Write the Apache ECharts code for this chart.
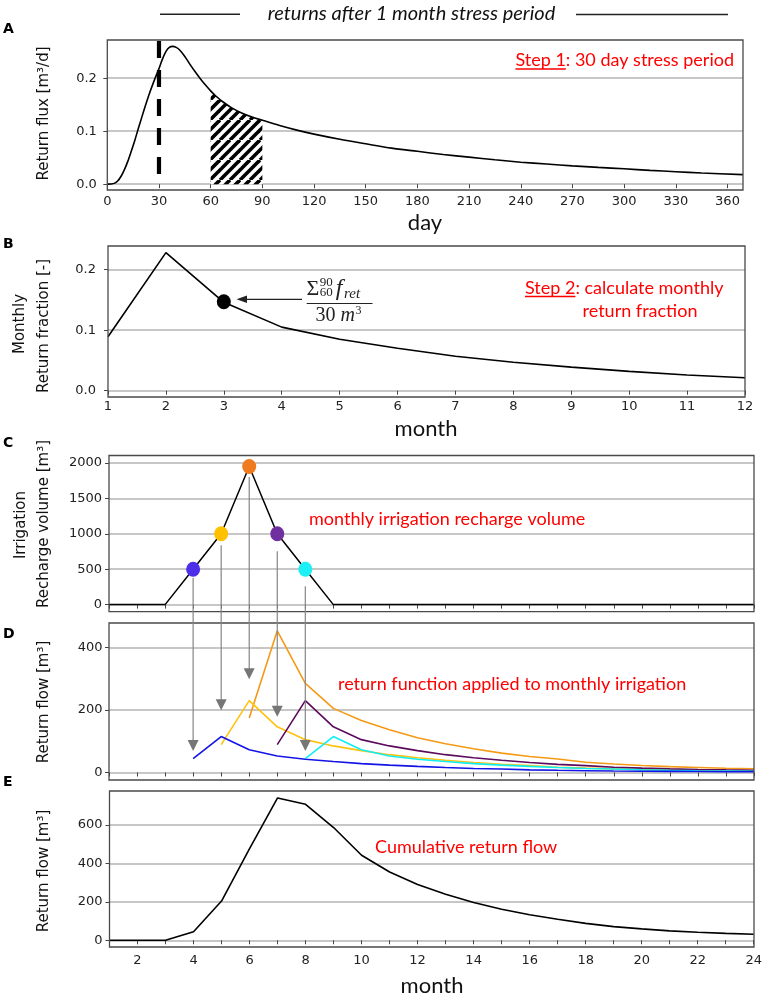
<!DOCTYPE html>
<html><head><meta charset="utf-8">
<script src="https://cdn.jsdelivr.net/npm/echarts@6/dist/echarts.min.js"></script>
<style>html,body{margin:0;padding:0;background:#fff}#c{width:765px;height:1000px}</style>
</head><body><div id="c"></div>
<script>
// ---------- Panel A: daily return flux ----------
const daysA = [0,2,4,6,8,10,12,14,16,18,20,22,24,26,28,30,32,34,36,38,40,42,45,48,51,54,57,60,63,67,72,78,84,90,100,110,120,135,150,165,180,195,210,225,240,255,270,285,300,315,330,345,369];
const fluxA = [0,0.0003,0.0015,0.006,0.015,0.028,0.044,0.063,0.083,0.105,0.126,0.147,0.167,0.185,0.202,0.218,0.236,0.250,0.258,0.260,0.258,0.253,0.241,0.226,0.212,0.199,0.187,0.176,0.1663,0.1555,0.1445,0.1343,0.1265,0.1205,0.1106,0.102,0.0944,0.0847,0.0762,0.068,0.062,0.056,0.051,0.046,0.0415,0.038,0.0345,0.0317,0.029,0.026,0.0235,0.021,0.018];
const hatchRange = [60, 90];
const dashDay = 30, dashRange = [0.27, 0.013];
const xTicksA = [0,30,60,90,120,150,180,210,240,270,300,330,360];
const yTicksA = [0, 0.1, 0.2];
// ---------- Panel B: monthly return fraction ----------
const monthsB = [1,2,3,4,5,6,7,8,9,10,11,12];
const fracB = [0.089,0.228,0.146,0.105,0.085,0.070,0.057,0.047,0.039,0.032,0.026,0.0215];
const dotB = [3, 0.147];
const yTicksB = [0, 0.1, 0.2];
// ---------- Panels C-E: months 1..24 ----------
const months = [1,2,3,4,5,6,7,8,9,10,11,12,13,14,15,16,17,18,19,20,21,22,23,24];
const irrigC = [0,0,0,500,1000,1950,1000,500,0,0,0,0,0,0,0,0,0,0,0,0,0,0,0,0];
const dotMonthsC = [4,5,6,7,8];
const arrowStartC = [380,837,1800,755,260];
const arrowTipD = [69,199,298,178,69];
const yTicksC = [0,500,1000,1500,2000];
const N = null;
const retBlue   = [N,N,N,44.5,115,73,52.5,42.5,35,28.5,23.5,19.5,16,13,11,8.5,7,5.8,4.9,4.2,3.6,3.1,2.6,2.3];
const retYellow = [N,N,N,N,89,230,146,105,85,70,57,47,39,32,26,22,17,14,11.5,9.7,8.3,7.1,6.1,5.2];
const retOrange = [N,N,N,N,N,174,453,285,205,166,137,111,92,76,62,51,43,33,27,22.4,18.9,16.2,13.8,11.9];
const retPurple = [N,N,N,N,N,N,89,230,146,105,85,70,57,47,39,32,26,22,17,14,11.5,9.7,8.3,7.1];
const retCyan   = [N,N,N,N,N,N,N,44.5,115,73,52.5,42.5,35,28.5,23.5,19.5,16,13,11,8.5,7,5.8,4.9,4.2];
const yTicksD = [0,200,400];
const cumE = [0,0,0,44.5,204,477,740,707,586,442,355,290,239,196,161,133,109,88,71,59,49,42,36,31];
const yTicksE = [0,200,400,600];
const xLabelsE = [2,4,6,8,10,12,14,16,18,20,22,24];

// ---------- styles / layout ----------
const dotColors = ['#4F2EEA','#FFC000','#F07A1E','#7030A0','#1CF0F5'];
const lineColorsD = {blue:'#1414E6', yellow:'#FFC20E', orange:'#F49A16', purple:'#5C0A5C', cyan:'#10EEF2'};
const G = [
  {left:107.3, top:40, width:635.7, height:150},
  {left:108, top:246, width:637, height:151},
  {left:109, top:455.5, width:645, height:156.2},
  {left:109, top:623, width:645, height:157},
  {left:109.5, top:791, width:644.5, height:156}
];
const yRanges = [[-0.011,0.272],[-0.0104,0.239],[-100,2105],[-24,478],[-35,776]];
const TF = 'DejaVu Sans';

// hatch pattern "/" stripes, 10px horizontal period
const pc = document.createElement('canvas'); pc.width = 20; pc.height = 20;
const pctx = pc.getContext('2d'); pctx.fillStyle = '#fff'; pctx.fillRect(0,0,20,20);
pctx.strokeStyle = '#000'; pctx.lineWidth = 3.6;
for (const o of [-20,-10,0,10,20]) { pctx.beginPath(); pctx.moveTo(o,20); pctx.lineTo(o+20,0); pctx.stroke(); }

function pairs(xs, ys){ const r=[]; xs.forEach((x,i)=>{ if(ys[i]!==null) r.push([x, ys[i]]); }); return r; }
function xAx(gi, min, max, interval, ticks, labels, margin){
  return {type:'value', gridIndex:gi, min, max, interval,
    axisLine:{show:false},
    axisTick:{show:true, length:4, customValues:ticks, lineStyle:{color:'#444', width:1}},
    axisLabel:{show: !!labels, customValues: labels || ticks, margin: margin||4, fontFamily:TF, fontSize:13, color:'#222'},
    splitLine:{show:false}};
}
function yAx(gi, split, ticks, margin){
  return {type:'value', gridIndex:gi, min:yRanges[gi][0], max:yRanges[gi][1], splitNumber:split,
    axisLine:{show:false},
    axisTick:{show:true, length:4, customValues:ticks, lineStyle:{color:'#444', width:1}},
    axisLabel:{customValues:ticks, margin, fontFamily:TF, fontSize:13, color:'#222',
      formatter: v => gi < 2 ? Number(v).toFixed(1) : String(v)},
    splitLine:{show:true, lineStyle:{color:'#b4b4b4', width:1.5}}};
}
function ln(gi, data, color, width, extra){
  return Object.assign({type:'line', xAxisIndex:gi, yAxisIndex:gi, data, symbol:'none', silent:true,
    lineStyle:{color, width: width||1.5}, animation:false}, extra||{});
}

const hatchData = pairs(daysA, fluxA).filter(p => p[0] >= hatchRange[0] && p[0] <= hatchRange[1]);

const option = {
  animation:false,
  grid: G.map(g => Object.assign({containLabel:false}, g)),
  xAxis: [
    xAx(0, 0, 369, 30, xTicksA, xTicksA, 5),
    xAx(1, 1, 12, 1, monthsB, monthsB, 3),
    xAx(2, 1, 24, 1, months, null),
    xAx(3, 1, 24, 1, months, null),
    xAx(4, 1, 24, 1, months, xLabelsE, 7)
  ],
  yAxis: [
    yAx(0, 3, yTicksA, 10.5),
    yAx(1, 3, yTicksB, 12),
    yAx(2, 4, yTicksC, 7),
    yAx(3, 3, yTicksD, 6.5),
    yAx(4, 4, yTicksE, 7)
  ],
  series: [
    ln(0, hatchData, '#000', 0, {smooth:0.3, lineStyle:{width:0, opacity:0}, areaStyle:{color:{image:pc, repeat:'repeat'}, opacity:1}, z:1}),
    ln(0, pairs(daysA, fluxA), '#000', 1.6, {smooth:0.3, z:3}),
    ln(0, [[dashDay, dashRange[0]],[dashDay, dashRange[1]]], '#000', 4.2, {lineStyle:{color:'#000', width:4.2, type:[17,12]}, z:4}),
    ln(1, pairs(monthsB, fracB), '#000', 1.6),
    {type:'scatter', xAxisIndex:1, yAxisIndex:1, data:[dotB], symbolSize:[14,15], itemStyle:{color:'#000', opacity:1}, silent:true, z:5},
    ln(2, pairs(months, irrigC), '#000', 1.5),
    {type:'scatter', xAxisIndex:2, yAxisIndex:2, silent:true, z:5, symbolSize:[14,15],
      data: dotMonthsC.map((m,i)=>({value:[m, irrigC[m-1]], itemStyle:{color:dotColors[i], opacity:1}}))},
    ln(3, pairs(months, retOrange), lineColorsD.orange, 1.6),
    ln(3, pairs(months, retYellow), lineColorsD.yellow, 1.6),
    ln(3, pairs(months, retPurple), lineColorsD.purple, 1.6),
    ln(3, pairs(months, retCyan), lineColorsD.cyan, 1.6),
    ln(3, pairs(months, retBlue), lineColorsD.blue, 1.6),
    ln(4, pairs(months, cumE), '#000', 1.6)
  ]
};
const chart = echarts.init(document.getElementById('c'), null, {renderer:'canvas'});
chart.setOption(option);

// ---------- graphics ----------
const mctx = document.createElement('canvas').getContext('2d');
function tw(text, font){ mctx.font = font; return mctx.measureText(text).width; }
function T(text, x, y, font, o){
  o = o || {};
  return {type:'text', x, y, rotation:o.rot||0, z:120, silent:true,
    style:{text, font, fill:o.fill||'#111', align:o.align||'left', verticalAlign:'middle', textAlign:o.align||'left', textVerticalAlign:'middle'}};
}
function L(x1,y1,x2,y2,color,w){ return {type:'line', z:115, silent:true, shape:{x1,y1,x2,y2}, style:{stroke:color, lineWidth:w}}; }
const g = [];
G.forEach(r => g.push({type:'rect', z:110, silent:true, shape:{x:r.left, y:r.top, width:r.width, height:r.height}, style:{fill:'none', stroke:'#4a4a4a', lineWidth:1.3}}));

// title
const titleFont = 'italic 20px Lato';
g.push(T('returns after 1 month stress period', 411.5, 14, titleFont, {align:'center', fill:'#111'}));
g.push(L(160,14.3,240,14.3,'#222',1.5));
g.push(L(576,14.5,728,14.5,'#222',1.5));

// panel letters
[['A',29],['B',244],['C',443],['D',634],['E',782]].forEach(a => g.push(T(a[0], 3, a[1], 'bold 14px DejaVu Sans', {fill:'#000'})));

// y-axis names
const yn = '15px DejaVu Sans', rot = Math.PI/2;
g.push(T('Return flux [m³/d]', 44, 113.5, yn, {align:'center', rot}));
g.push(T('Monthly', 20, 324, yn, {align:'center', rot}));
g.push(T('Return fraction [-]', 44, 326, yn, {align:'center', rot}));
g.push(T('Irrigation', 21, 525, yn, {align:'center', rot}));
g.push(T('Recharge volume [m³]', 44, 524, yn, {align:'center', rot}));
g.push(T('Return flow [m³]', 44, 702, yn, {align:'center', rot}));
g.push(T('Return flow [m³]', 44, 871, yn, {align:'center', rot}));

// x-axis names
const xn = '22px Lato';
g.push(T('day', 425, 223, xn, {align:'center'}));
g.push(T('month', 426, 429, xn, {align:'center'}));
g.push(T('month', 432, 986, xn, {align:'center'}));

// red annotations
const rf = '18px Lato', red = '#f00';
{
  const a = 'Step 1', b = ': 30 day stress period';
  const wa = tw(a, rf), wb = tw(b, rf), x0 = 734 - wa - wb;
  g.push(T(a, x0, 60.5, rf, {fill:red})); g.push(T(b, x0 + wa, 60.5, rf, {fill:red}));
  g.push(L(x0, 69, x0 + wa, 69, red, 1.3));
}
{
  const a = 'Step 2', b = ': calculate monthly', x0 = 525;
  const wa = tw(a, rf);
  g.push(T(a, x0, 288, rf, {fill:red})); g.push(T(b, x0 + wa, 288, rf, {fill:red}));
  g.push(L(x0, 296.5, x0 + wa, 296.5, red, 1.3));
  g.push(T('return fraction', 640, 311, rf, {fill:red, align:'center'}));
}
g.push(T('monthly irrigation recharge volume', 309, 519, rf, {fill:red}));
g.push(T('return function applied to monthly irrigation', 338, 684, rf, {fill:red}));
g.push(T('Cumulative return flow', 375, 847, rf, {fill:red}));

// formula in B
const sf = 'Liberation Serif', fc = '#222';
const sigW = tw('Σ', '22px ' + sf);
g.push(T('Σ', 306.5, 289, '22px ' + sf, {fill:fc}));
g.push(T('90', 306.5 + sigW + 0.5, 283, '13px ' + sf, {fill:fc}));
g.push(T('60', 306.5 + sigW + 0.5, 293, '13px ' + sf, {fill:fc}));
const fx = 306.5 + sigW + 0.5 + tw('90', '13px ' + sf) + 3;
g.push(T('f', fx, 289, 'italic 24px ' + sf, {fill:fc}));
g.push(T('ret', fx + tw('f', 'italic 24px ' + sf) + 1.5, 294, 'italic 15px ' + sf, {fill:fc}));
g.push(L(306.7, 303.5, 372.5, 303.5, fc, 1.2));
const w30 = tw('30 ', '20px ' + sf);
g.push(T('30 ', 315.5, 316, '20px ' + sf, {fill:fc}));
g.push(T('m', 315.5 + w30, 316, 'italic 20px ' + sf, {fill:fc}));
g.push(T('3', 315.5 + w30 + tw('m', 'italic 20px ' + sf) + 0.5, 310.5, '12px ' + sf, {fill:fc}));
// arrow B
g.push(L(302, 299.3, 245, 299.3, fc, 1.2));
g.push({type:'polygon', z:115, silent:true, shape:{points:[[236.5,299.3],[247,295.6],[247,303]]}, style:{fill:fc}});

// C -> D arrows
dotMonthsC.forEach((m,i) => {
  const p1 = chart.convertToPixel({xAxisIndex:2, yAxisIndex:2}, [m, arrowStartC[i]]);
  const p2 = chart.convertToPixel({xAxisIndex:3, yAxisIndex:3}, [m, arrowTipD[i]]);
  g.push(L(p1[0], p1[1], p2[0], p2[1] - 9, '#858585', 1.2));
  g.push({type:'polygon', z:116, silent:true, shape:{points:[[p2[0]-5.5, p2[1]-11],[p2[0]+5.5, p2[1]-11],[p2[0], p2[1]]]}, style:{fill:'#767676'}});
});

chart.setOption({graphic:{elements:g}});
</script></body></html>
